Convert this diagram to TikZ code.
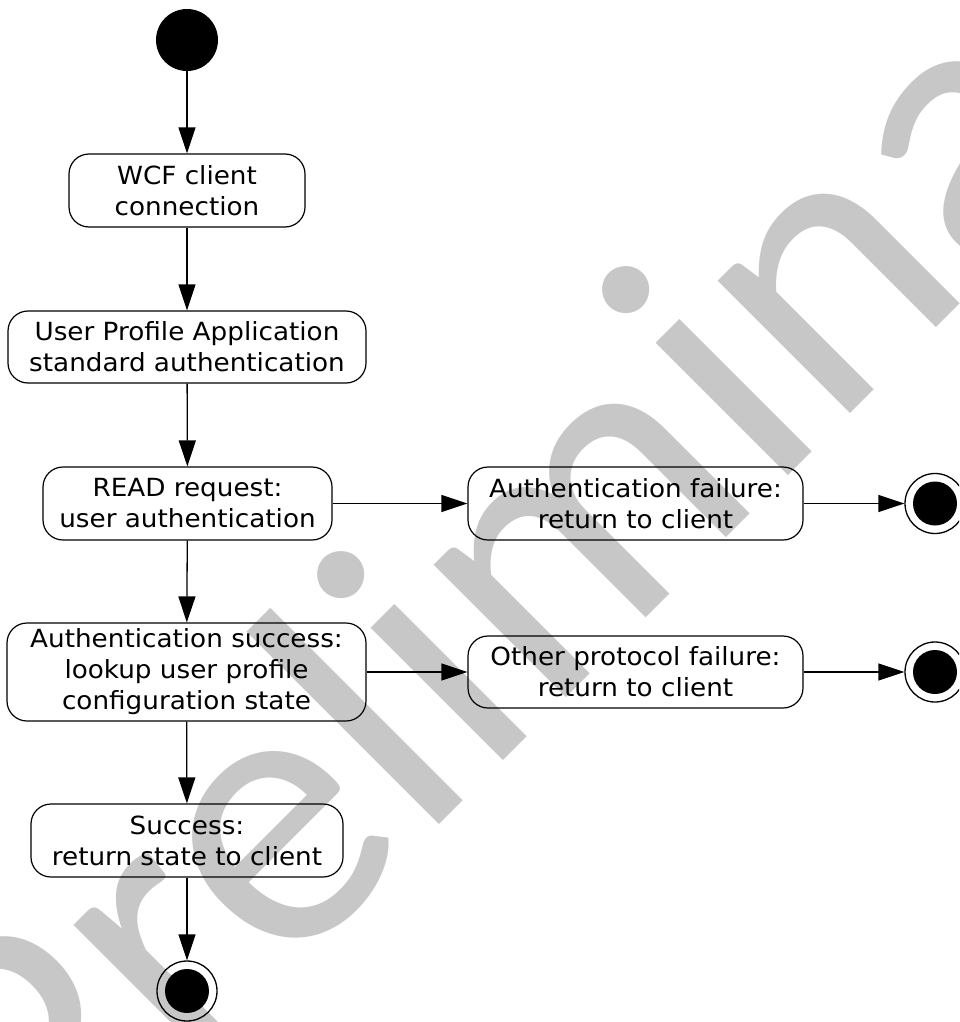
\documentclass[tikz,border=0pt]{standalone}
\usepackage{fontspec}
\setmainfont{DejaVu Sans}[FakeStretch=1.05]
\newfontfamily\wmfont{Carlito}
\usetikzlibrary{arrows.meta}
\definecolor{wmgray}{RGB}{199,199,199}
\begin{document}
\begin{tikzpicture}[x=1pt,y=-1pt,
  act/.style={draw=black, line width=1.2pt, rounded corners=20pt, align=center,
    inner sep=0pt, font=\fontsize{25}{31}\selectfont},
  flow/.style={draw=black, line width=1.3pt, -{Triangle[length=26pt,width=17pt]}},
  startnode/.style={circle, fill=black, minimum size=62pt, inner sep=0pt},
  endnode/.style={circle, draw=black, line width=1.3pt, minimum size=60pt, inner sep=0pt,
    path picture={\fill[black] (path picture bounding box.center) circle (22pt);}},
  wmark/.style={rotate=45, anchor=base west, inner sep=0pt, text=wmgray,
    font=\wmfont\fontsize{392}{392}\selectfont},
]
\useasboundingbox (0,0) rectangle (959,1022);
\clip (0,0) rectangle (959,1022);
% watermark
\node[wmark] (wm) at (45,1219) {Preliminary};
% nodes
\node[startnode] (start) at (187,40) {};
\node[act, minimum width=236pt, minimum height=73pt] (wcf) at (187,190.5) {WCF client\\connection};
\node[act, minimum width=358pt, minimum height=72pt] (upa) at (187,347) {User Profile Application\\standard authentication};
\node[act, minimum width=289pt, minimum height=73pt] (read) at (187.5,503.5) {READ request:\\user authentication};
\node[act, minimum width=335pt, minimum height=73pt] (afail) at (635.5,503.5) {Authentication failure:\\return to client};
\node[act, minimum width=359pt, minimum height=98pt] (asucc) at (186.5,672) {Authentication success:\\lookup user profile\\configuration state};
\node[act, minimum width=335pt, minimum height=72pt] (other) at (635.5,672) {Other protocol failure:\\return to client};
\node[act, minimum width=312pt, minimum height=73pt] (succ) at (187,840.5) {Success:\\return state to client};
\node[endnode] (end1) at (935,503.5) {};
\node[endnode] (end2) at (935,672) {};
\node[endnode] (end3) at (187,991) {};
% connectors
\draw[flow] (start) -- (wcf);
\draw[flow] (wcf) -- (upa);
\draw[flow] (upa) -- (read);
\draw[flow] (read) -- (asucc);
\draw[flow] (asucc) -- (succ);
\draw[flow] (succ) -- (end3);
\draw[flow] (read) -- (afail);
\draw[flow] (afail) -- (end1);
\draw[flow] (asucc) -- (other);
\draw[flow] (other) -- (end2);
\end{tikzpicture}
\end{document}
